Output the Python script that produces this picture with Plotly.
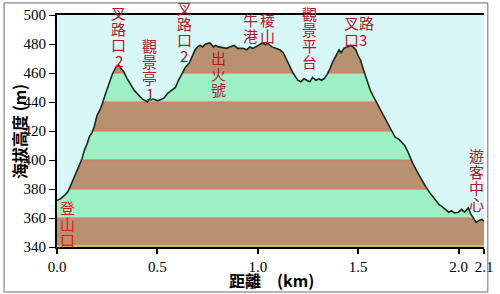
import plotly.graph_objects as go

# ---- data ----
dist_km = [0.000, 0.020, 0.040, 0.054, 0.070, 0.085, 0.098, 0.110, 0.125, 0.137,
           0.150, 0.161, 0.175, 0.185, 0.195, 0.200, 0.212, 0.224, 0.240, 0.259,
           0.275, 0.293, 0.307, 0.320, 0.332, 0.350, 0.366, 0.385, 0.405, 0.425,
           0.439, 0.450, 0.460, 0.470, 0.478, 0.500, 0.517, 0.535, 0.551, 0.570,
           0.590, 0.605, 0.624, 0.640, 0.659, 0.675, 0.688, 0.700, 0.712, 0.725,
           0.740, 0.761, 0.780, 0.790, 0.805, 0.825, 0.844, 0.860, 0.883, 0.900,
           0.927, 0.945, 0.960, 0.976, 1.000, 1.024, 1.040, 1.049, 1.070, 1.088,
           1.110, 1.127, 1.140, 1.151, 1.165, 1.176, 1.190, 1.200, 1.215, 1.230,
           1.244, 1.260, 1.273, 1.290, 1.305, 1.317, 1.330, 1.346, 1.360, 1.371,
           1.390, 1.405, 1.415, 1.429, 1.445, 1.463, 1.475, 1.488, 1.500, 1.512,
           1.527, 1.537, 1.550, 1.561, 1.575, 1.590, 1.615, 1.639, 1.660, 1.683,
           1.705, 1.732, 1.750, 1.771, 1.790, 1.810, 1.835, 1.859, 1.885, 1.905,
           1.917, 1.935, 1.951, 1.965, 1.980, 2.000, 2.015, 2.030, 2.049, 2.060,
           2.075, 2.088, 2.100, 2.115, 2.127]
elev_m = [372.0, 373.5, 376.0, 378.0, 383.0, 388.0, 391.0, 396.0, 401.0, 407.0,
          411.0, 416.0, 419.0, 423.0, 428.0, 431.0, 434.0, 438.0, 445.0, 453.0,
          459.0, 464.0, 465.5, 463.0, 461.0, 456.0, 452.0, 448.0, 445.0, 442.0,
          441.0, 440.0, 442.0, 441.5, 442.0, 441.0, 441.5, 443.0, 446.0, 448.0,
          450.0, 455.0, 460.0, 464.0, 467.0, 472.0, 476.0, 478.0, 479.0, 478.0,
          480.0, 480.7, 478.0, 479.0, 478.0, 477.5, 477.0, 478.0, 479.0, 477.0,
          477.0, 476.0, 478.0, 477.0, 479.0, 480.7, 479.5, 480.7, 478.0, 477.0,
          476.0, 474.0, 470.0, 467.0, 463.0, 460.0, 457.0, 455.0, 454.0, 456.0,
          455.0, 454.0, 457.0, 455.0, 456.0, 455.0, 456.0, 459.0, 463.0, 467.0,
          472.0, 476.0, 474.0, 477.0, 478.0, 479.0, 478.0, 476.0, 472.0, 469.0,
          462.0, 458.0, 452.0, 448.0, 444.0, 440.0, 434.0, 427.6, 422.0, 416.0,
          414.0, 410.0, 405.0, 398.0, 393.0, 388.0, 382.0, 377.0, 372.0, 369.0,
          368.0, 366.0, 364.0, 365.0, 363.5, 364.0, 366.0, 364.0, 367.0, 363.0,
          360.0, 357.0, 358.0, 359.0, 358.0]

band_edges = [340, 360, 380, 400, 420, 440, 460, 480, 500]
band_colors = ["#b89270", "#9cf0c4"]  # brown, green (alternating from bottom)

x_tickvals = [0.0, 0.5, 1.0, 1.5, 2.0, 2.127]
x_ticktext = ["0.0", "0.5", "1.0", "1.5", "2.0", "2.1"]
y_tickvals = [340, 360, 380, 400, 420, 440, 460, 480, 500]

# labels: (x_km, elevation of first char, characters per column)
labels = [
    (0.307, 501.4, "叉路口2"),
    (0.463, 479.3, "觀景亭1"),
    (0.634, 505.5, "叉路口2"),
    (0.805, 471.0, "出火號"),
    (0.966, 497.2, "牛港"),
    (1.049, 497.2, "稜山"),
    (1.259, 500.7, "觀景平台"),
    (2.088, 402.8, "遊客中心"),
]
start_label = (0.054, 366.9, "登山口")
row_labels = [(1.420, 494.5, "叉路"), (1.420, 482.8, "口3")]

XMAX = 2.127
YMIN, YMAX = 340, 500


def ydom(e):
    return (e - YMIN) / (YMAX - YMIN)


fig = go.Figure()

# top boundary for masking fill
fig.add_trace(go.Scatter(x=dist_km, y=[YMAX] * len(dist_km), mode="lines",
                         line=dict(width=0, color="rgba(0,0,0,0)"),
                         hoverinfo="skip", showlegend=False))
# profile; fill above it with sky colour to mask bands
fig.add_trace(go.Scatter(x=dist_km, y=elev_m, mode="lines",
                         line=dict(color="#1c281c", width=1.6),
                         fill="tonexty", fillcolor="#d8f8f8",
                         showlegend=False))

shapes = []
for i in range(len(band_edges) - 1):
    shapes.append(dict(type="rect", xref="x", yref="y", x0=0, x1=XMAX,
                       y0=band_edges[i], y1=band_edges[i + 1],
                       fillcolor=band_colors[i % 2], line=dict(width=0),
                       layer="below"))
for e in band_edges[1:-1]:
    shapes.append(dict(type="line", xref="x", yref="y", x0=0, x1=XMAX,
                       y0=e, y1=e, line=dict(color="#e86a6a", width=1.2),
                       layer="below"))
shapes.append(dict(type="line", xref="x", yref="y", x0=0, x1=XMAX,
                   y0=340.8, y1=340.8, line=dict(color="#e8d070", width=1.2),
                   layer="below"))
# outer frame
shapes.append(dict(type="rect", xref="paper", yref="paper",
                   x0=-0.124, x1=1.009, y0=-0.194, y1=1.052,
                   line=dict(color="#6a6a6a", width=1)))

annotations = []
cjk = "Noto Sans CJK TC"
red = "#b8142a"
for x, y, text in labels:
    for i, ch in enumerate(text):
        annotations.append(dict(x=x, y=ydom(y), xref="x", yref="y domain",
                                text=ch, showarrow=False, yshift=-16 * i,
                                xanchor="center", yanchor="middle",
                                font=dict(family=cjk, size=15, color=red)))
x, y, text = start_label
for i, ch in enumerate(text):
    annotations.append(dict(x=x, y=ydom(y), xref="x", yref="y domain",
                            text=ch, showarrow=False, yshift=-16 * i,
                            xanchor="center", yanchor="middle",
                            font=dict(family=cjk, size=15, color="#e81818")))
for x, y, text in row_labels:
    annotations.append(dict(x=x, y=ydom(y), xref="x", yref="y domain",
                            text=text, showarrow=False,
                            xanchor="left", yanchor="middle",
                            font=dict(family=cjk, size=15, color=red)))

# axis titles
annotations.append(dict(x=-0.089, y=0.5, xref="paper", yref="paper",
                        text="<b>海拔高度 (m)</b>", textangle=-90,
                        showarrow=False, xanchor="center", yanchor="middle",
                        font=dict(family=cjk, size=16, color="black")))
annotations.append(dict(x=0.503, y=-0.142, xref="paper", yref="paper",
                        text="<b>距離　(km)</b>",
                        showarrow=False, xanchor="center", yanchor="middle",
                        font=dict(family=cjk, size=16, color="black")))

fig.update_layout(
    width=500, height=294,
    margin=dict(l=57, r=7, t=15, b=47),
    paper_bgcolor="white", plot_bgcolor="#d8f8f8",
    shapes=shapes, annotations=annotations,
    xaxis=dict(range=[0, XMAX], tickvals=x_tickvals, ticktext=x_ticktext,
               ticks="outside", ticklen=5, tickcolor="black", tickwidth=2,
               showline=True, linecolor="black", linewidth=2, mirror=True,
               showgrid=False, zeroline=False, ticklabeloverflow="allow",
               tickfont=dict(family="Liberation Serif", size=15, color="black")),
    yaxis=dict(range=[YMIN, YMAX], tickvals=y_tickvals,
               ticks="outside", ticklen=6, tickcolor="black", tickwidth=1,
               showline=True, linecolor="black", linewidth=2,
               showgrid=False, zeroline=False,
               tickfont=dict(family="Liberation Serif", size=15, color="black")),
)

fig.write_html("out.html")
